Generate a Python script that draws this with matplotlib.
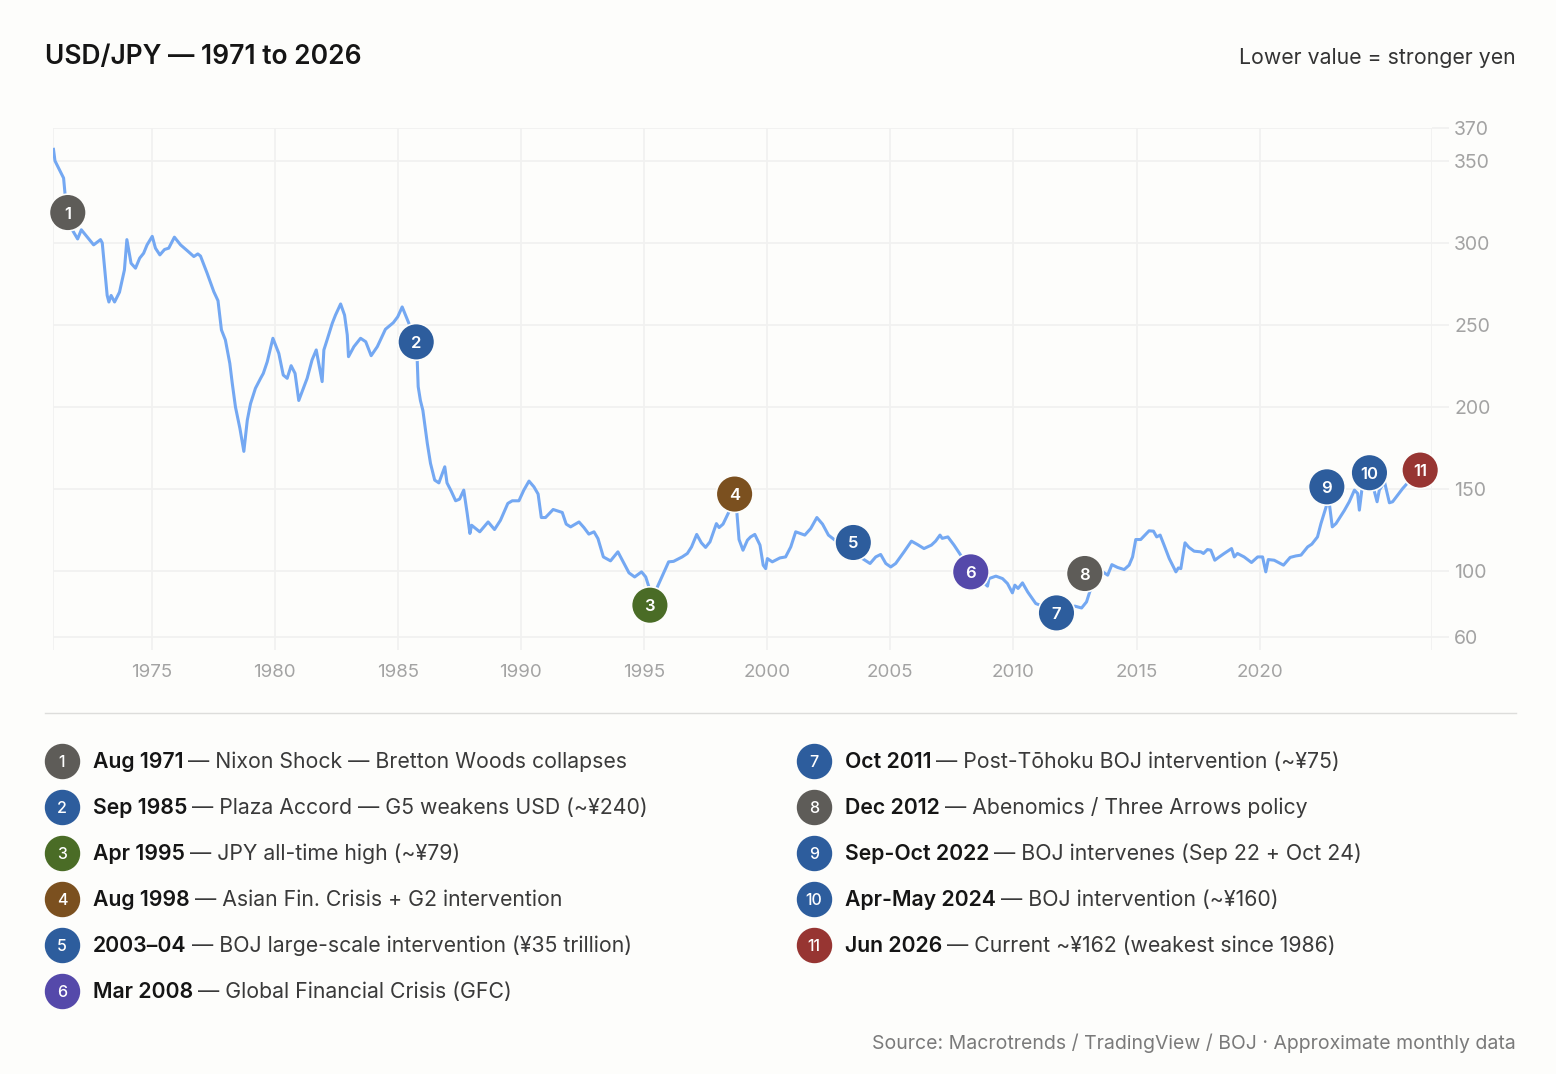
import matplotlib
matplotlib.use("Agg")
import matplotlib.pyplot as plt

# approximate monthly USD/JPY values
years = [1971.02, 1971.08, 1971.43, 1971.5, 1971.6, 1971.78, 1972.0, 1972.15, 1972.65, 1972.93,
         1973.0, 1973.2, 1973.27, 1973.36, 1973.5, 1973.7, 1973.9, 1974.0, 1974.17, 1974.35,
         1974.52, 1974.68, 1974.82, 1975.03, 1975.16, 1975.34, 1975.53, 1975.7, 1975.93, 1976.18,
         1976.45, 1976.72, 1976.88, 1976.99, 1977.26, 1977.53, 1977.7, 1977.84, 1978.0, 1978.18,
         1978.28, 1978.41, 1978.59, 1978.75, 1978.89, 1979.02, 1979.22, 1979.43, 1979.54, 1979.7,
         1979.93, 1980.17, 1980.35, 1980.51, 1980.67, 1980.83, 1980.98, 1981.32, 1981.52, 1981.69,
         1981.93, 1982.0, 1982.13, 1982.34, 1982.47, 1982.68, 1982.84, 1982.95, 1983.0, 1983.22,
         1983.49, 1983.7, 1983.92, 1984.17, 1984.5, 1984.82, 1985.0, 1985.18, 1985.45, 1985.75,
         1985.79, 1985.83, 1985.92, 1986.02, 1986.2, 1986.33, 1986.5, 1986.67, 1986.91, 1987.0,
         1987.17, 1987.35, 1987.51, 1987.68, 1987.82, 1987.93, 1988.0, 1988.33, 1988.67, 1988.93,
         1989.17, 1989.47, 1989.65, 1989.92, 1990.12, 1990.33, 1990.53, 1990.7, 1990.83, 1991.0,
         1991.31, 1991.68, 1991.84, 1992.02, 1992.36, 1992.56, 1992.76, 1992.97, 1993.13, 1993.35,
         1993.64, 1993.94, 1994.12, 1994.39, 1994.62, 1994.9, 1995.07, 1995.2, 1995.3, 1995.53,
         1996.0, 1996.2, 1996.55, 1996.76, 1996.93, 1997.14, 1997.33, 1997.5, 1997.68, 1997.94,
         1998.05, 1998.21, 1998.45, 1998.65, 1998.77, 1998.86, 1999.02, 1999.2, 1999.33, 1999.5,
         1999.71, 1999.84, 1999.94, 2000.01, 2000.21, 2000.52, 2000.75, 2000.96, 2001.16, 2001.53,
         2001.77, 2002.02, 2002.25, 2002.49, 2002.79, 2003.2, 2003.87, 2004.18, 2004.41, 2004.61,
         2004.82, 2005.02, 2005.22, 2005.56, 2005.86, 2006.1, 2006.37, 2006.67, 2006.84, 2007.02,
         2007.11, 2007.34, 2007.59, 2007.86, 2008.27, 2008.95, 2009.01, 2009.29, 2009.56, 2009.76,
         2009.96, 2010.06, 2010.19, 2010.37, 2010.58, 2010.82, 2010.91, 2011.5, 2012.5, 2012.77,
         2012.97, 2013.1, 2013.3, 2013.63, 2013.83, 2014.0, 2014.23, 2014.5, 2014.7, 2014.84,
         2014.97, 2015.17, 2015.51, 2015.69, 2015.82, 2015.96, 2016.12, 2016.33, 2016.6, 2016.7,
         2016.8, 2016.97, 2017.13, 2017.34, 2017.61, 2017.72, 2017.88, 2018.02, 2018.18, 2018.36,
         2018.56, 2018.86, 2018.97, 2019.1, 2019.37, 2019.67, 2019.92, 2020.12, 2020.25, 2020.35,
         2020.59, 2020.97, 2021.24, 2021.47, 2021.68, 2021.95, 2022.12, 2022.35, 2022.49, 2022.7,
         2022.78, 2022.83, 2022.95, 2023.1, 2023.27, 2023.44, 2023.64, 2023.85, 2023.98, 2024.05,
         2024.15, 2024.3, 2024.46, 2024.6, 2024.77, 2024.86, 2025.07, 2025.27, 2025.4, 2025.6,
         2025.81, 2026.01, 2026.3]
usdjpy = [357, 350, 339.5, 328, 318, 308, 302.4, 308, 298.8, 302,
          300, 268, 264, 268, 264, 270, 283.5, 302, 287.6, 284.6,
          290.7, 293.7, 298.8, 304, 296.8, 292.7, 296, 296.8, 303.5, 298.8,
          295.3, 291.7, 293.3, 292, 281.5, 270.3, 264.8, 247, 240.9, 226.6,
          214.4, 200, 187, 173, 192, 202, 211.4, 217.5, 220.5, 227.6,
          241.9, 232.7, 219.5, 217.5, 225.2, 220.5, 204, 217.5, 228.7, 234.8,
          215.5, 234.8, 240.9, 251, 256, 262.8, 256, 243.9, 230.7, 236.8,
          241.9, 239.8, 231.3, 236.8, 247.4, 251.4, 255, 261, 251, 240,
          228.7, 212.4, 204, 198, 177.9, 165.7, 155.5, 153.8, 163.6, 153.8,
          148.8, 142.9, 143.9, 149.4, 135.2, 123, 128, 124, 130, 125.4,
          131, 141.3, 142.9, 142.9, 149.4, 154.9, 151.4, 147, 132.7, 132.7,
          137.6, 135.8, 128.7, 127, 130, 126.6, 122.6, 124, 119.9, 108.7,
          106.3, 111.8, 106.7, 99, 96.5, 99.6, 96.5, 90.4, 80, 90,
          105.7, 106, 108.7, 110.8, 114.8, 122.4, 117.3, 114.5, 117.9, 129,
          126.6, 128.7, 136.2, 145, 136, 119.3, 112.8, 118.9, 120.9, 122.4,
          115.9, 103.7, 101.6, 107.7, 105.7, 108.1, 108.7, 114.8, 124, 122,
          126, 132.7, 128.7, 122, 118.5, 117.5, 107.7, 104.7, 108.7, 110.2,
          104.7, 102.6, 104.7, 111.8, 118.3, 116.3, 113.8, 115.9, 118.3, 122,
          120, 120.9, 115.9, 109.8, 100, 90.9, 95.5, 97, 95.5, 92.5,
          86.8, 91.5, 89.5, 92.9, 87.4, 82.3, 80.3, 77, 78.7, 77.6,
          81.3, 87.4, 95, 99.6, 97.6, 104, 102.3, 101, 103.7, 108.7,
          119.3, 119.3, 124.6, 124.4, 120.9, 122, 115.9, 107.7, 99.6, 102,
          101.6, 117.3, 114.5, 112.2, 111.8, 110.8, 113.2, 112.8, 106.7, 108.7,
          110.8, 113.8, 108.7, 110.8, 108.7, 105.3, 108.7, 108.7, 99.6, 107.1,
          106.7, 103.7, 108.4, 109.3, 109.8, 114.8, 116.5, 120.9, 129, 139.2,
          146, 141.3, 127, 129, 133, 137, 142.3, 149.4, 147.4, 137.2,
          149.4, 152, 157, 152, 142.3, 149.4, 154.5, 141.7, 142.3, 146.3,
          150.4, 153.8, 158]

# event markers (position on chart)
ev_num = ["1", "2", "3", "4", "5", "6", "7", "8", "9", "10", "11"]
ev_x = [1971.6, 1985.75, 1995.24, 1998.68, 2003.5, 2008.27, 2011.75, 2012.9, 2022.73, 2024.46, 2026.52]
ev_y = [318.5, 239.7, 79.3, 147, 117.5, 99.6, 74.6, 98.6, 151.4, 160, 161.6]
ev_col = ["#5e5c58", "#2d5d9d", "#4a6c26", "#7b501f", "#2d5d9d", "#5549aa",
          "#2d5d9d", "#5e5c58", "#2d5d9d", "#2d5d9d", "#973532"]
ev_date = ["Aug 1971", "Sep 1985", "Apr 1995", "Aug 1998", "2003–04", "Mar 2008",
           "Oct 2011", "Dec 2012", "Sep-Oct 2022", "Apr-May 2024", "Jun 2026"]
ev_text = ["Nixon Shock — Bretton Woods collapses",
           "Plaza Accord — G5 weakens USD (~¥240)",
           "JPY all-time high (~¥79)",
           "Asian Fin. Crisis + G2 intervention",
           "BOJ large-scale intervention (¥35 trillion)",
           "Global Financial Crisis (GFC)",
           "Post-Tōhoku BOJ intervention (~¥75)",
           "Abenomics / Three Arrows policy",
           "BOJ intervenes (Sep 22 + Oct 24)",
           "BOJ intervention (~¥160)",
           "Current ~¥162 (weakest since 1986)"]

x_ticks = [1975, 1980, 1985, 1990, 1995, 2000, 2005, 2010, 2015, 2020]
y_ticks = [60, 100, 150, 200, 250, 300, 350, 370]

plt.rcParams['font.family'] = ['Inter', 'DejaVu Sans']

W, H = 1556, 1074
bg = "#fdfdfb"
grid_c = "#f1f1f0"
fig = plt.figure(figsize=(W / 100, H / 100), dpi=100, facecolor=bg)


def fx(x):
    return x / W


def fy(y):
    return 1 - y / H


ax = fig.add_axes([fx(53), fy(650), fx(1432 - 53), (650 - 128) / H])
ax.set_facecolor(bg)
ax.plot(years, usdjpy, color="#74a8f2", lw=2.2, zorder=2)
ax.scatter(ev_x, ev_y, s=700, c=ev_col, edgecolors=bg, linewidths=1.2, zorder=3, clip_on=False)
for n, x, y in zip(ev_num, ev_x, ev_y):
    ax.text(x, y, n, color="white", fontsize=12, fontweight="semibold",
            ha="center", va="center_baseline", zorder=4)

ax.set_xlim(1971, 2027)
ax.set_ylim(52, 370)
ax.set_xticks(x_ticks)
ax.set_yticks(y_ticks)
ax.yaxis.tick_right()
ax.grid(True, color=grid_c, lw=1.3, zorder=0)
ax.axvline(1971, color=grid_c, lw=1.3, zorder=0)
ax.axvline(2027, color=grid_c, lw=1.3, zorder=0)
for s in ax.spines.values():
    s.set_visible(False)
ax.tick_params(axis="y", length=12, color=grid_c, width=1.3, pad=4, labelsize=14, labelcolor="#a3a3a3")
ax.tick_params(axis="x", length=0, pad=10, labelsize=13.5, labelcolor="#a3a3a3")

# header
fig.text(fx(45), fy(57), "USD/JPY — 1971 to 2026", fontsize=19, fontweight="semibold",
         color="#151515", va="center")
fig.text(fx(1516), fy(58), "Lower value = stronger yen", fontsize=15.3, color="#333333",
         ha="right", va="center")

# separator
fig.add_artist(plt.Line2D([fx(45), fx(1516)], [fy(713), fy(713)], color="#dddddb", lw=1))

# legend of events
renderer = fig.canvas.get_renderer()
for i in range(len(ev_num)):
    col = 0 if i < 6 else 1
    row = i if i < 6 else i - 6
    cx = 62 if col == 0 else 814
    tx = 93 if col == 0 else 845
    yy = 761 + row * 46
    fig.add_artist(plt.Line2D([fx(cx)], [fy(yy)], marker="o", markersize=24.5,
                              markerfacecolor=ev_col[i], markeredgecolor=ev_col[i], lw=0))
    fig.text(fx(cx), fy(yy), ev_num[i], color="white", fontsize=11.5, fontweight="medium",
             ha="center", va="center_baseline")
    t = fig.text(fx(tx), fy(yy + 7), ev_date[i], fontsize=15.3, fontweight="semibold",
                 color="#151515", va="baseline")
    w = t.get_window_extent(renderer).width
    fig.text(fx(tx + w + 5), fy(yy + 7), "— " + ev_text[i], fontsize=15.3, color="#3a3a3a",
             va="baseline")

fig.text(fx(1516), fy(1043), "Source: Macrotrends / TradingView / BOJ · Approximate monthly data",
         fontsize=14, color="#7a7a7a", ha="right", va="center")

fig.savefig("out.png", dpi=100, facecolor=bg)
